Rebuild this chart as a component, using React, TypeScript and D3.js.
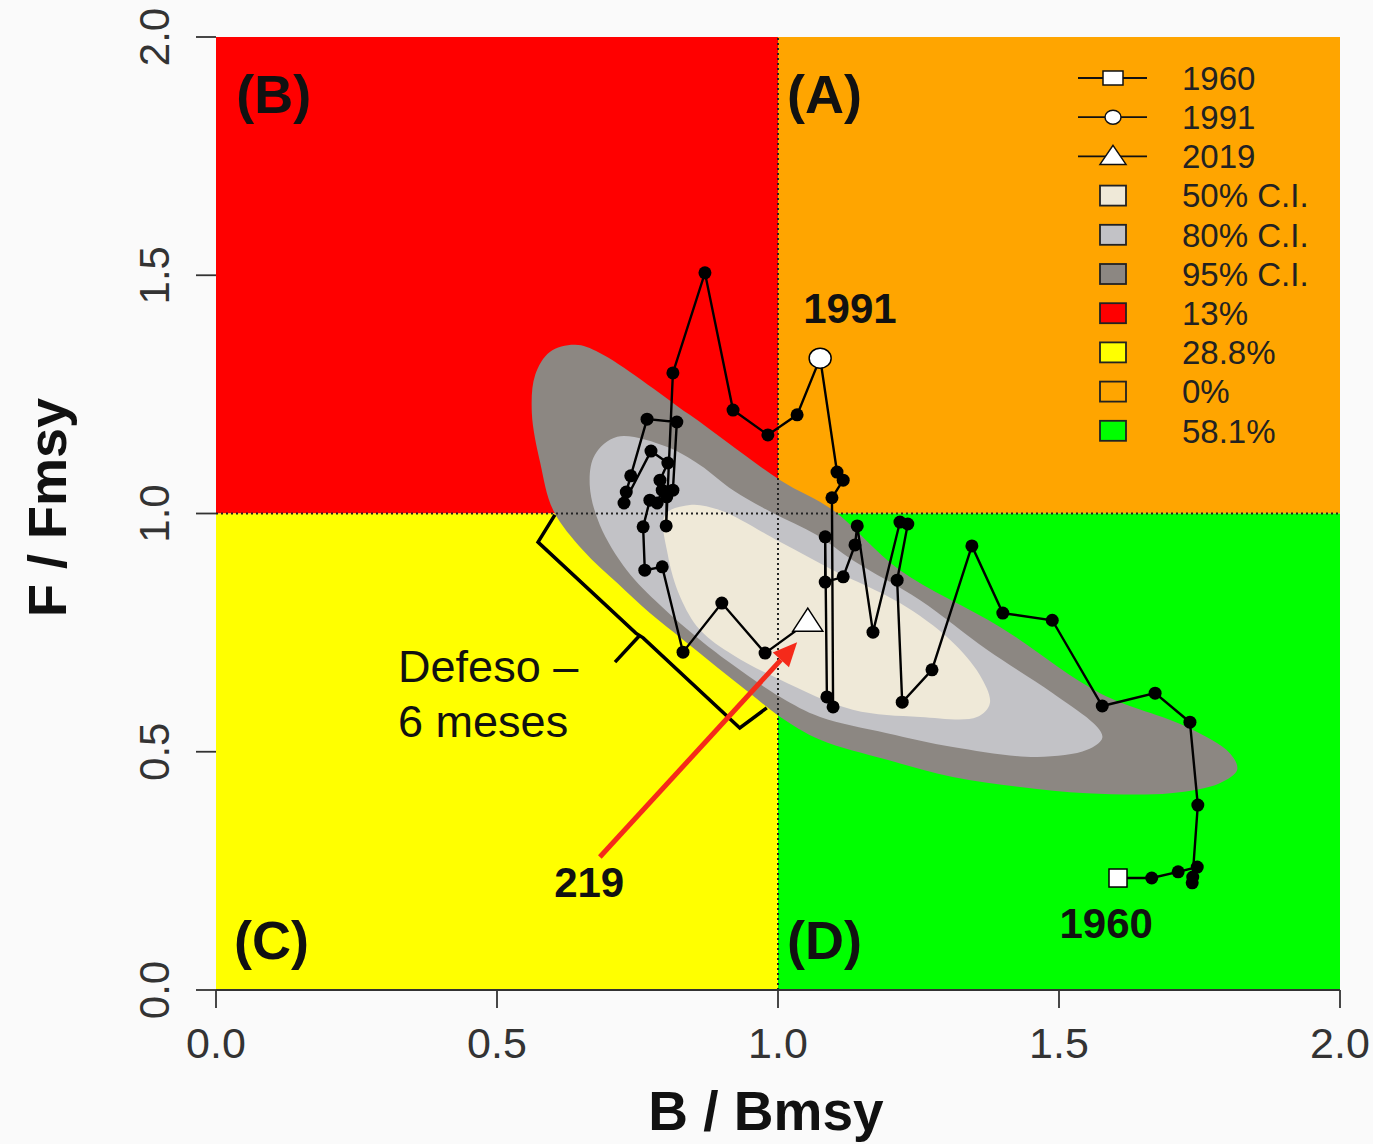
import React from 'react';
import * as d3 from 'd3';

const W = 1373;
const H = 1144;
const M = { left: 216, right: 33, top: 37, bottom: 154 };

// Axis ticks
const xTicks = [0, 0.5, 1, 1.5, 2];
const yTicks = [0, 0.5, 1, 1.5, 2];

// Trajectory (B/Bmsy, F/Fmsy), 1960 -> 2019
const trajB = [1.605, 1.665, 1.712, 1.746, 1.738, 1.737, 1.747, 1.733, 1.671, 1.577, 1.488, 1.400, 1.345, 1.274, 1.221, 1.212, 1.231, 1.217, 1.169, 1.141, 1.137, 1.116, 1.084, 1.084, 1.087, 1.098, 1.096, 1.116, 1.105, 1.075,
  1.034, 0.982, 0.920, 0.870, 0.813, 0.801, 0.802, 0.813, 0.820, 0.767, 0.738, 0.730, 0.726, 0.774, 0.804, 0.790, 0.794, 0.785, 0.772, 0.760, 0.763, 0.794, 0.831, 0.900, 0.977, 1.053];
const trajF = [0.235, 0.235, 0.248, 0.258, 0.237, 0.225, 0.388, 0.562, 0.623, 0.596, 0.776, 0.791, 0.932, 0.672, 0.604, 0.860, 0.978, 0.982, 0.751, 0.974, 0.934, 0.867, 0.856, 0.951, 0.615, 0.594, 1.033, 1.070, 1.087, 1.326,
  1.207, 1.165, 1.217, 1.505, 1.295, 0.974, 1.035, 1.049, 1.192, 1.198, 1.079, 1.045, 1.022, 1.131, 1.106, 1.070, 1.049, 1.022, 1.028, 0.972, 0.881, 0.888, 0.709, 0.812, 0.707, 0.772];
const idx1960 = 0;
const idx1991 = 29;
const idx2019 = trajB.length - 1;

// Confidence region outlines
const ci95B = [0.639, 0.683, 0.843, 1.004, 1.098, 1.217, 1.395, 1.573, 1.728, 1.804, 1.817, 1.786, 1.698, 1.550, 1.431, 1.311, 1.194, 1.075, 1.004, 0.950, 0.891, 0.831, 0.772, 0.714, 0.653, 0.600, 0.577, 0.562, 0.568, 0.594];
const ci95F = [1.354, 1.337, 1.207, 1.070, 1.007, 0.881, 0.762, 0.623, 0.552, 0.497, 0.462, 0.434, 0.413, 0.413, 0.426, 0.447, 0.483, 0.525, 0.573, 0.623, 0.678, 0.735, 0.791, 0.854, 0.923, 1.007, 1.106, 1.211, 1.291, 1.339];
const ci80B = [0.674, 0.714, 0.802, 0.861, 0.920, 0.991, 1.069, 1.133, 1.253, 1.372, 1.489, 1.568, 1.577, 1.550, 1.461, 1.311, 1.194, 1.075, 1.004, 0.920, 0.861, 0.790, 0.731, 0.683, 0.665];
const ci80F = [1.123, 1.161, 1.140, 1.102, 1.049, 1.001, 0.955, 0.902, 0.818, 0.714, 0.623, 0.552, 0.529, 0.504, 0.489, 0.510, 0.539, 0.573, 0.615, 0.682, 0.735, 0.808, 0.881, 0.976, 1.060];
const ci50B = [0.799, 0.843, 0.897, 1.004, 1.098, 1.217, 1.306, 1.359, 1.377, 1.354, 1.253, 1.133, 1.004, 0.920, 0.861, 0.826, 0.804];
const ci50F = [0.997, 1.018, 1.007, 0.940, 0.881, 0.812, 0.735, 0.661, 0.602, 0.573, 0.573, 0.588, 0.651, 0.703, 0.756, 0.825, 0.913];

// "Defeso" bracket
const bracketB = [0.603, 0.573, 0.747, 0.760, 0.932, 0.980];
const bracketF = [0.997, 0.940, 0.749, 0.739, 0.550, 0.592];
const bracketTickB = [0.753, 0.710];
const bracketTickF = [0.743, 0.688];

// Red arrow
const arrowB = [0.683, 1.034];
const arrowF = [0.279, 0.730];

// Legend
const legendLabels = ['1960', '1991', '2019', '50% C.I.', '80% C.I.', '95% C.I.', '13%', '28.8%', '0%', '58.1%'];

const C = {
  red: '#ff0000', orange: '#ffa500', yellow: '#ffff00', green: '#00ff00',
  ci95: '#8c8782', ci80: '#c2c2c6', ci50: '#efe9d8',
};

const FONT = 'Liberation Sans, Arial, Helvetica, sans-serif';

export default function App() {
  const x = d3.scaleLinear().domain([0, 2]).range([M.left, W - M.right]);
  const y = d3.scaleLinear().domain([0, 2]).range([H - M.bottom, M.top]);

  const closed = d3.line<[number, number]>().x(d => x(d[0])).y(d => y(d[1])).curve(d3.curveCatmullRomClosed.alpha(0.5));
  const open = d3.line<[number, number]>().x(d => x(d[0])).y(d => y(d[1]));
  const zip = (a: number[], b: number[]) => a.map((v, i) => [v, b[i]] as [number, number]);

  const traj = zip(trajB, trajF);

  const quads = [
    { x0: 0, x1: 1, y0: 1, y1: 2, fill: C.red },
    { x0: 1, x1: 2, y0: 1, y1: 2, fill: C.orange },
    { x0: 0, x1: 1, y0: 0, y1: 1, fill: C.yellow },
    { x0: 1, x1: 2, y0: 0, y1: 1, fill: C.green },
  ];

  // arrow geometry
  const ax0 = x(arrowB[0]), ay0 = y(arrowF[0]), ax1 = x(arrowB[1]), ay1 = y(arrowF[1]);
  const ang = Math.atan2(ay1 - ay0, ax1 - ax0);
  const hl = 24, hw = 11;
  const bx = ax1 - hl * Math.cos(ang), by = ay1 - hl * Math.sin(ang);
  const head = [
    [ax1, ay1],
    [bx + hw * Math.sin(ang), by - hw * Math.cos(ang)],
    [bx - hw * Math.sin(ang), by + hw * Math.cos(ang)],
  ];

  const p1960 = traj[idx1960], p1991 = traj[idx1991], p2019 = traj[idx2019];

  const legendX = 1113, legendY0 = 78, legendStep = 39.2, legendTextX = 1182;
  const boxFills = [C.ci50, C.ci80, C.ci95, C.red, C.yellow, C.orange, C.green];

  return (
    <svg width={W} height={H} style={{ position: 'absolute', left: 0, top: 0, background: '#fafafa', fontFamily: FONT }}>
      {quads.map((q, i) => (
        <rect key={i} x={x(q.x0)} y={y(q.y1)} width={x(q.x1) - x(q.x0)} height={y(q.y0) - y(q.y1)} fill={q.fill} />
      ))}
      <path d={closed(zip(ci95B, ci95F)) || ''} fill={C.ci95} />
      <path d={closed(zip(ci80B, ci80F)) || ''} fill={C.ci80} />
      <path d={closed(zip(ci50B, ci50F)) || ''} fill={C.ci50} />

      <line x1={x(1)} x2={x(1)} y1={y(0)} y2={y(2)} stroke="#222" strokeWidth={2} strokeDasharray="2,3" />
      <line x1={x(0)} x2={x(2)} y1={y(1)} y2={y(1)} stroke="#222" strokeWidth={2} strokeDasharray="2,3" />

      <path d={open(zip(bracketB, bracketF)) || ''} fill="none" stroke="#000" strokeWidth={3.5} strokeLinejoin="miter" />
      <path d={open(zip(bracketTickB, bracketTickF)) || ''} fill="none" stroke="#000" strokeWidth={3.5} />

      <path d={open(traj) || ''} fill="none" stroke="#000" strokeWidth={2.4} />
      {traj.map((d, i) => (
        <circle key={i} cx={x(d[0])} cy={y(d[1])} r={6.5} fill="#000" />
      ))}
      <rect x={x(p1960[0]) - 9} y={y(p1960[1]) - 9} width={18} height={18} fill="#fff" stroke="#000" strokeWidth={1.5} />
      <ellipse cx={x(p1991[0])} cy={y(p1991[1])} rx={11} ry={10} fill="#fff" stroke="#000" strokeWidth={1.5} />
      <path d={`M${x(p2019[0])},${y(p2019[1]) - 14}L${x(p2019[0]) + 15},${y(p2019[1]) + 9}L${x(p2019[0]) - 15},${y(p2019[1]) + 9}Z`} fill="#fff" stroke="#000" strokeWidth={1.5} />

      {/* quadrant labels */}
      <g fontWeight="bold" fontSize={54} fill="#111">
        <text x={x(0.036)} y={y(1.84)}>(B)</text>
        <text x={x(1.016)} y={y(1.84)}>(A)</text>
        <text x={x(0.032)} y={y(0.066)}>(C)</text>
        <text x={x(1.016)} y={y(0.066)}>(D)</text>
      </g>
      <g fontWeight="bold" fontSize={42} fill="#111" textAnchor="middle">
        <text x={x(1.128)} y={y(1.400)}>1991</text>
        <text x={x(0.664)} y={y(0.195)}>219</text>
        <text x={x(1.584)} y={y(0.109)}>1960</text>
      </g>
      <g fontSize={45} fill="#111">
        <text x={x(0.324)} y={y(0.646)}>Defeso –</text>
        <text x={x(0.324)} y={y(0.531)}>6 meses</text>
      </g>

      <line x1={ax0} y1={ay0} x2={bx} y2={by} stroke="#f52a1a" strokeWidth={5} />
      <polygon points={head.map(p => p.join(',')).join(' ')} fill="#f52a1a" />

      {/* legend */}
      {legendLabels.map((lab, i) => {
        const ly = legendY0 + i * legendStep;
        let sym: React.ReactNode = null;
        if (i < 3) {
          sym = (
            <g>
              <line x1={legendX - 35} x2={legendX + 34} y1={ly} y2={ly} stroke="#111" strokeWidth={1.8} />
              {i === 0 && <rect x={legendX - 10} y={ly - 7} width={20} height={14} fill="#fff" stroke="#111" strokeWidth={1.5} />}
              {i === 1 && <ellipse cx={legendX} cy={ly} rx={8} ry={7} fill="#fff" stroke="#111" strokeWidth={1.5} />}
              {i === 2 && <path d={`M${legendX},${ly - 11}L${legendX + 13},${ly + 8}L${legendX - 13},${ly + 8}Z`} fill="#fff" stroke="#111" strokeWidth={1.5} />}
            </g>
          );
        } else {
          sym = <rect x={legendX - 13} y={ly - 10} width={26} height={20} fill={boxFills[i - 3]} stroke="#222" strokeWidth={1.8} />;
        }
        return (
          <g key={lab}>
            {sym}
            <text x={legendTextX} y={ly} dy="0.36em" fontSize={33} fill="#222">{lab}</text>
          </g>
        );
      })}

      {/* x axis */}
      <line x1={x(0)} x2={x(2)} y1={y(0)} y2={y(0)} stroke="#333" strokeWidth={1.8} />
      {xTicks.map(t => (
        <g key={'x' + t}>
          <line x1={x(t)} x2={x(t)} y1={y(0)} y2={y(0) + 18} stroke="#333" strokeWidth={1.8} />
          <text x={x(t)} y={y(0) + 68} textAnchor="middle" fontSize={43} fill="#333">{d3.format('.1f')(t)}</text>
        </g>
      ))}
      {yTicks.map(t => (
        <g key={'y' + t}>
          <line x1={x(0) - 20} x2={x(0)} y1={y(t)} y2={y(t)} stroke="#333" strokeWidth={1.8} />
          <text transform={`translate(${x(0) - 47},${y(t)}) rotate(-90)`} textAnchor="middle" fontSize={42} fill="#333">{d3.format('.1f')(t)}</text>
        </g>
      ))}
      <text x={x(1) - 12} y={1130} textAnchor="middle" fontSize={55} fontWeight="bold" fill="#111">B / Bmsy</text>
      <text transform={`translate(66,${y(1) - 6}) rotate(-90)`} textAnchor="middle" fontSize={54} fontWeight="bold" fill="#111">F / Fmsy</text>
    </svg>
  );
}
